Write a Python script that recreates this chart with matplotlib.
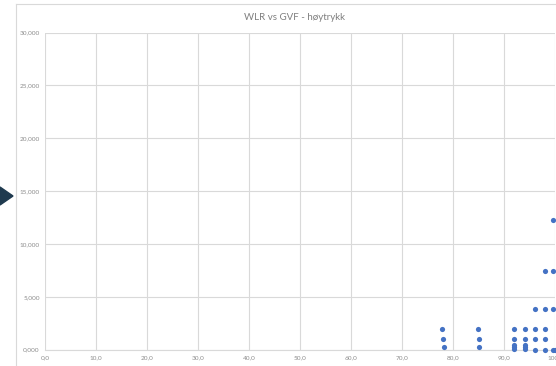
import matplotlib.pyplot as plt
from matplotlib.patches import Polygon
from matplotlib.lines import Line2D

# WLR vs GVF - høytrykk (verdier lest av bildet)
gvf = [77.7, 77.9, 78.1,
       84.8, 85.0, 85.1,
       92.0, 92.0, 92.0, 92.0, 92.0,
       94.0, 94.0, 94.0, 94.0, 94.0,
       96.0, 96.0, 96.0, 96.0,
       98.0, 98.0, 98.0, 98.0, 98.0,
       99.6, 99.6, 99.6, 99.6, 99.9]
wlr = [2.0, 1.0, 0.28,
       2.0, 1.0, 0.28,
       2.0, 1.0, 0.45, 0.25, 0.05,
       2.0, 1.0, 0.45, 0.25, 0.05,
       3.85, 2.0, 1.0, 0.0,
       7.45, 3.85, 2.0, 1.0, 0.0,
       12.27, 7.45, 3.85, 0.0, 0.0]

xticks = [0, 10, 20, 30, 40, 50, 60, 70, 80, 90, 100]
yticks = [0, 5, 10, 15, 20, 25, 30]

plt.rcParams['font.family'] = ['Lato', 'DejaVu Sans']

W, H = 556, 366
fig = plt.figure(figsize=(W / 100, H / 100), dpi=100)
ax = fig.add_axes([45.3 / W, (H - 349.7) / H, (555.3 - 45.3) / W, (349.7 - 32.6) / H])

ax.scatter(gvf, wlr, s=14, color='#4472C4', zorder=3, clip_on=False, linewidths=0)
ax.set_xlim(0, 100)
ax.set_ylim(0, 30)
ax.set_xticks(xticks)
ax.set_yticks(yticks)
ax.set_xticklabels([f"{v:.1f}".replace('.', ',') for v in xticks])
ax.set_yticklabels([f"{v:.3f}".replace('.', ',') for v in yticks])
ax.tick_params(length=0, labelsize=4.6, colors='#8c8c8c', pad=4)
ax.grid(True, color='#d9d9d9', linewidth=0.8)
ax.set_axisbelow(True)
for s in ['top', 'right', 'left']:
    ax.spines[s].set_visible(False)
ax.spines['bottom'].set_color('#d9d9d9')
ax.spines['bottom'].set_linewidth(0.8)

fig.text(294 / W, (H - 17) / H, "WLR vs GVF - høytrykk", ha='center', va='center',
         fontsize=7, color='#7f7f7f')

# ramme rundt diagrammet
fig.add_artist(Line2D([16 / W, 16 / W], [0, (H - 4) / H], color='#d9d9d9', lw=0.8))
fig.add_artist(Line2D([16 / W, 1], [(H - 4) / H, (H - 4) / H], color='#d9d9d9', lw=0.8))

# mørk pil til venstre
fig.add_artist(Polygon([[0, (H - 187) / H], [13 / W, (H - 196) / H], [0, (H - 205) / H]],
                       closed=True, transform=fig.transFigure, color='#1f3a4f'))

fig.savefig('out.png', dpi=100)
